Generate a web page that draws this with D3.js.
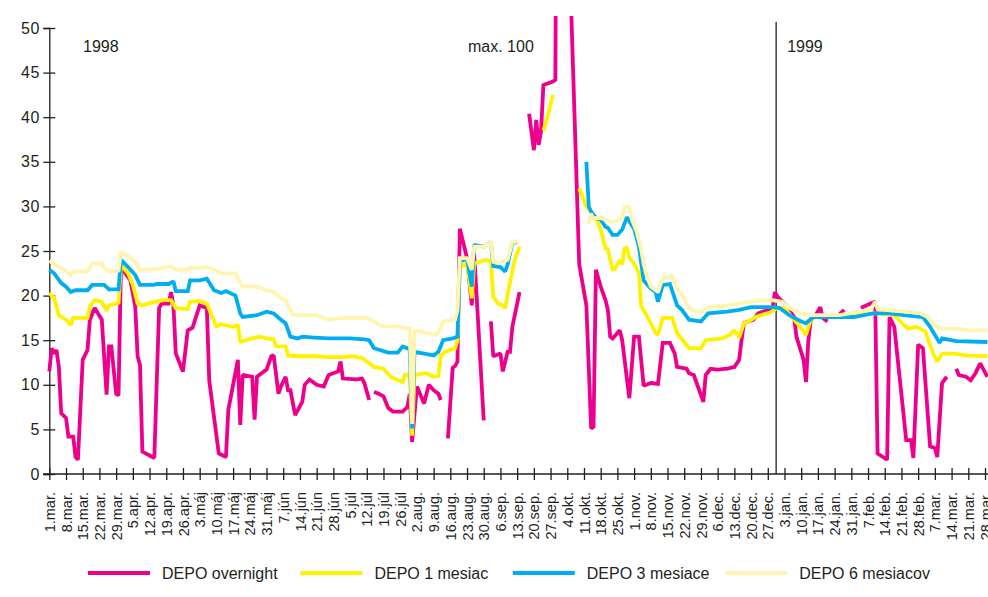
<!DOCTYPE html>
<html><head><meta charset="utf-8">
<script src="https://cdn.jsdelivr.net/npm/d3@7"></script>
<style>
body{margin:0;background:#fff}
svg{display:block;background:#fff}
text{font-family:"Liberation Sans",Arial,Helvetica,sans-serif;fill:#231f20}
</style>
</head><body>
<svg id="chart" width="988" height="597"></svg>
<script>
// ---- DATA (days counted from 1.mar.1998; null = no quote) ----
const seriesNames = ["DEPO overnight", "DEPO 1 mesiac", "DEPO 3 mesiace", "DEPO 6 mesiacov"];

const overnightDays = [0,1,2,3,4,5,7,8,10,11,12,14,16,17,19,22,24,25,26,28,29,30,34,36,37,38,39,44,46,47,50,51,52,53,56,58,60,63,66,67,71,74,75,79,80,81,85,86,87,91,93,94,96,97,99,100,101,103,106,107,109,112,115,117,121,122,123,129,131,132,134,135,136,138,140,142,144,148,150,151,152,154,157,159,161,163,164,165,167,169,170,171,172,175,177,178,182,183,185,186,189,190,192,193,194,197,199,201,203,204,205,206,207,211,212,213,222,225,227,228,229,231,233,234,235,236,239,240,243,245,247,249,252,255,257,260,262,263,267,268,270,274,275,277,280,284,287,289,290,291,295,297,300,303,304,305,309,312,313,316,317,318,319,321,323,324,326,328,331,333,336,340,344,346,347,351,352,354,359,361,362,364,366,369,371,372,374,376,378,380,381,384,386,388,390,393];
const overnightValues = [11.5,14.1,13.5,13.9,12.0,6.8,6.3,4.2,4.2,1.9,1.6,12.8,13.9,17.3,18.6,17.3,8.9,14.3,14.3,9.0,8.8,23.2,21.7,18.8,13.2,12.2,2.5,1.8,18.6,19.1,19.1,20.4,18.9,13.5,11.5,16.1,16.4,18.9,18.6,10.5,2.3,1.9,7.2,12.8,5.5,11.1,10.9,6.1,10.9,11.7,13.2,13.3,9.0,9.8,10.9,9.4,9.4,6.6,8.1,10.0,10.6,10.0,9.8,11.1,11.5,12.6,10.7,10.6,10.7,10.2,8.3,null,9.2,9.0,8.7,7.4,7.0,7.0,7.5,9.0,3.6,9.8,7.9,10.0,9.4,9.0,8.3,null,4.0,11.9,12.1,12.6,27.5,24.2,18.9,24.7,6.0,null,17.1,13.2,13.5,11.5,13.7,13.7,16.5,20.4,null,40.4,36.3,39.7,36.9,38.4,43.6,44.0,44.2,100,23.5,18.9,5.1,5.3,22.9,21.0,19.5,18.4,15.4,15.2,16.1,15.0,8.5,15.4,15.4,9.9,10.2,10.1,14.7,14.7,13.5,12.0,11.8,11.3,11.1,8.1,11.1,11.8,11.7,11.8,12.0,12.8,15.0,16.9,17.3,18.0,18.3,18.6,20.4,19.9,18.8,17.6,15.4,12.8,10.3,15.0,17.3,17.8,18.7,17.5,17.1,null,17.9,18.4,null,18.6,19.1,19.3,2.3,1.6,17.6,16.5,3.8,3.8,1.8,14.5,14.1,3.1,2.9,1.9,10.2,10.9,null,11.8,11.1,10.9,10.5,11.3,12.4,10.9];

const month1Days = [0,2,4,7,9,10,16,17,19,22,24,25,28,29,30,33,35,37,39,44,48,51,53,58,59,63,66,70,72,77,79,80,85,88,91,94,95,99,100,105,111,117,123,127,131,136,140,143,148,149,151,152,153,158,161,163,164,166,170,171,172,175,177,178,183,185,186,188,190,191,193,195,197,200,207,208,211,215,222,225,227,229,231,233,234,236,237,239,240,241,242,243,245,247,248,250,252,254,255,257,261,263,266,268,273,275,282,285,287,289,291,293,296,298,302,305,308,311,314,317,319,321,326,335,345,348,354,358,360,363,367,370,372,374,379,384,393];
const month1Values = [20.3,19.7,17.8,17.3,16.7,17.5,17.5,18.8,19.5,19.3,18.3,18.9,19.1,19.2,23.4,22.5,21.2,19.1,18.9,19.3,19.5,19.5,18.6,18.5,19.3,19.4,19.1,16.5,16.8,16.5,16.7,14.8,15.2,15.4,15.2,15.1,14.3,14.3,13.3,13.2,13.2,13.1,13.1,13.2,13.0,12.0,11.8,10.9,10.3,11.1,11.1,4.3,11.1,11.3,10.9,11.0,13.3,13.7,14.1,15.0,23.2,23.6,19.7,23.6,24.0,23.8,19.9,19.1,18.9,18.6,21.5,24.0,25.5,null,38.5,39.3,42.5,null,32.0,30.0,29.4,28.7,27.4,25.3,25.2,22.9,23.0,24.0,23.5,25.3,25.4,24.2,23.6,22.5,18.8,17.9,16.9,15.8,15.6,17.5,17.5,15.8,14.8,14.1,14.1,15.0,15.2,15.6,16.1,15.3,16.9,17.1,17.6,17.8,18.1,18.6,18.6,17.6,16.7,15.6,17.3,17.6,17.6,17.7,18.0,18.0,17.8,16.7,16.3,16.5,16.0,13.7,12.6,13.5,13.5,13.3,13.2];

const month3Days = [0,2,5,7,9,11,16,18,23,25,29,30,33,36,38,44,45,50,52,53,58,59,63,66,69,72,74,78,80,81,87,91,94,97,99,101,104,106,111,117,126,132,134,136,142,146,148,151,152,153,157,161,163,165,169,171,172,175,177,178,182,185,186,189,191,192,194,196,210,225,226,227,229,231,233,234,236,238,240,242,244,245,247,249,250,252,254,255,257,260,263,265,268,273,276,284,289,294,303,306,310,315,317,320,337,345,352,358,366,369,371,373,374,380,393];
const month3Values = [22.9,22.5,21.4,21.0,20.4,20.6,20.6,21.2,21.2,20.7,20.7,24.0,23.2,22.3,21.2,21.2,21.3,21.3,21.6,20.5,20.5,21.7,21.7,21.9,20.6,20.3,20.5,20.0,18.0,17.6,17.8,18.2,18.0,17.3,16.9,15.4,15.2,15.4,15.3,15.2,15.2,15.1,15.0,14.1,13.6,13.6,14.3,14.0,5.1,13.7,13.5,13.3,13.7,15.0,15.2,15.4,23.8,24.2,21.0,25.7,25.5,26.0,23.3,23.2,22.7,23.5,25.9,26.0,null,35.0,30.0,29.4,28.7,28.5,27.7,27.6,26.8,26.8,27.4,28.8,27.9,27.5,25.5,21.7,21.4,20.8,20.4,19.3,21.2,21.3,18.9,18.4,17.3,17.1,18.0,18.2,18.4,18.7,18.7,18.6,17.8,17.1,16.9,17.6,17.6,18.0,18.0,17.8,17.6,16.5,15.6,14.7,15.2,14.9,14.8];

const month6Days = [0,3,6,9,10,16,18,22,23,25,29,30,33,36,38,45,49,51,53,58,59,63,66,69,72,78,81,87,91,94,97,99,102,106,112,117,123,133,136,139,147,151,152,153,158,162,164,165,170,171,172,175,177,178,182,185,186,189,192,194,197,210,226,227,228,229,231,233,235,237,240,241,243,244,246,248,249,250,252,255,257,261,263,266,268,270,273,276,284,289,296,303,307,310,315,319,331,344,346,347,354,359,365,368,370,373,380,386,393];
const month6Values = [23.9,23.4,22.9,22.3,22.7,22.7,23.6,23.6,23.1,22.7,22.8,24.9,24.4,23.8,22.9,23.0,23.2,23.3,22.9,22.9,23.1,23.1,23.2,22.9,22.5,22.5,21.0,21.0,20.6,20.4,19.7,19.5,17.8,17.8,17.8,17.3,17.5,17.5,17.1,16.6,16.5,16.3,5.6,16.1,15.8,15.6,16.3,17.1,17.3,18.4,24.2,24.2,22.9,25.5,25.5,26.0,23.8,23.7,24.0,26.0,26.1,null,28.0,29.2,28.5,28.7,28.7,28.5,28.3,28.3,28.7,30.0,29.9,28.6,27.2,25.1,23.6,22.5,21.0,20.4,22.0,22.2,20.8,19.7,18.6,18.3,18.1,18.7,18.9,19.1,19.4,19.5,19.3,18.6,18.0,17.8,17.8,18.4,19.3,18.5,18.3,18.2,18.0,17.6,16.9,16.3,16.3,16.1,16.1];

const yTicks = [0,5,10,15,20,25,30,35,40,45,50];
const xTickLabels = ["1.mar.","8.mar.","15.mar.","22.mar.","29.mar.","5.apr.","12.apr.","19.apr.","26.apr.","3.máj","10.máj","17.máj","24.máj","31.máj","7.jún","14.jún","21.jún","28.jún","5.júl","12.júl","19.júl","26.júl","2.aug.","9.aug.","16.aug.","23.aug.","30.aug.","6.sep.","13.sep.","20.sep.","27.sep.","4.okt.","11.okt.","18.okt.","25.okt.","1.nov.","8.nov.","15.nov.","22.nov.","29.nov.","6.dec.","13.dec.","20.dec.","27.dec.","3.jan.","10.jan.","17.jan.","24.jan.","31.jan.","7.feb.","14.feb.","21.feb.","28.feb.","7.mar.","14.mar.","21.mar.","28.mar."];
const yearLabels = ["1998", "1999"];
const yearBoundaryDay = 304.5;
const maxNote = "max. 100";

// ---- CHART ----
const colors = ["#ec008c", "#fff200", "#00aeef", "#fff5b0"];
const W = 988, H = 597;
const start = Date.UTC(1998, 2, 1);
const dayToDate = d => new Date(start + d * 864e5);

const x = d3.scaleUtc().domain([dayToDate(0), dayToDate(392)]).range([49.3, 985]);
const y = d3.scaleLinear().domain([0, 50]).range([474, 28]);

const svg = d3.select("#chart");

svg.append("defs").append("clipPath").attr("id", "plotClip")
  .append("rect").attr("x", 0).attr("y", 16).attr("width", W).attr("height", 470);

// y axis
const gy = svg.append("g").attr("transform", `translate(${x.range()[0]},0)`)
  .call(d3.axisLeft(y).tickValues(yTicks).tickSizeOuter(0).tickSize(6));
gy.select(".domain").attr("stroke", "#231f20").attr("stroke-width", 1.3);
gy.selectAll(".tick line").attr("x1", -6).attr("x2", 6).attr("stroke", "#231f20").attr("stroke-width", 1.3);
gy.selectAll(".tick text").attr("x", -9).style("font-size", "16px").style("letter-spacing", "0.8px").attr("fill", "#231f20");

// x axis
const tickDates = xTickLabels.map((_, i) => dayToDate(i * 7));
const gx = svg.append("g").attr("transform", `translate(0,${y(0)})`)
  .call(d3.axisBottom(x).tickValues(tickDates).tickFormat((d, i) => xTickLabels[i]).tickSizeOuter(0));
gx.select(".domain").remove();
gx.append("line").attr("x1", x.range()[0] - 6).attr("x2", W).attr("y1", 0).attr("y2", 0)
  .attr("stroke", "#231f20").attr("stroke-width", 1.3);
gx.selectAll(".tick line").attr("y1", -6).attr("y2", 6).attr("stroke", "#231f20").attr("stroke-width", 1.3);
gx.selectAll(".tick text")
  .attr("transform", "rotate(-90)")
  .attr("x", -18).attr("y", 0).attr("dy", "0.35em")
  .attr("text-anchor", "end")
  .style("font-size", "14.5px").attr("fill", "#231f20");

// year boundary line
const xb = x(dayToDate(yearBoundaryDay));
svg.append("line").attr("x1", xb).attr("x2", xb).attr("y1", 22).attr("y2", y(0))
  .attr("stroke", "#231f20").attr("stroke-width", 1.3);

// series lines
const seriesData = [
  [overnightDays, overnightValues],
  [month1Days, month1Values],
  [month3Days, month3Values],
  [month6Days, month6Values]
].map(([days, vals]) => days.map((d, i) => ({ date: dayToDate(d), v: vals[i] })));

const line = d3.line()
  .defined(p => p.v !== null)
  .x(p => x(p.date))
  .y(p => y(p.v));

const gl = svg.append("g").attr("clip-path", "url(#plotClip)");
seriesData.forEach((data, i) => {
  gl.append("path").datum(data)
    .attr("d", line)
    .attr("fill", "none")
    .attr("stroke", colors[i])
    .attr("stroke-width", 3.8)
    .attr("stroke-linejoin", "miter")
    .attr("stroke-miterlimit", 1.5);
});

// annotations
svg.append("text").attr("x", 83).attr("y", 52).style("font-size", "16px").text(yearLabels[0]);
svg.append("text").attr("x", 468).attr("y", 52).style("font-size", "16px").text(maxNote);
svg.append("text").attr("x", xb + 11).attr("y", 52).style("font-size", "16px").text(yearLabels[1]);

// legend
const lg = svg.append("g").attr("transform", "translate(88,573)");
seriesNames.forEach((name, i) => {
  const g = lg.append("g").attr("transform", `translate(${i * 212.4},0)`);
  g.append("line").attr("x1", 0).attr("x2", 62).attr("y1", 0).attr("y2", 0)
    .attr("stroke", colors[i]).attr("stroke-width", 4);
  g.append("text").attr("x", 74).attr("y", 0).attr("dy", "0.36em")
    .style("font-size", "16px").text(name);
});
</script>
</body></html>
